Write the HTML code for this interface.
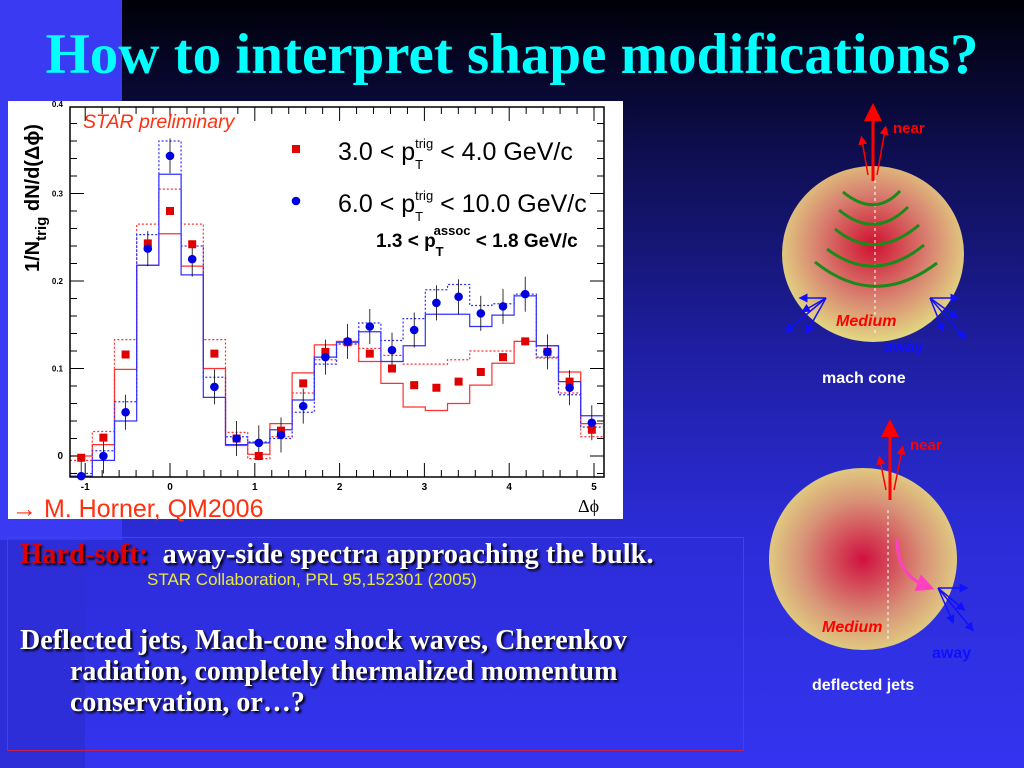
<!DOCTYPE html>
<html><head><meta charset="utf-8"><style>
body{margin:0;width:1024px;height:768px;overflow:hidden;position:relative;font-family:"Liberation Sans",sans-serif;
background:linear-gradient(#000008 0%,#0e0e50 20%,#1e1ea0 45%,#2c2cd8 70%,#3434f0 100%);}
.abs{position:absolute;}
.serif{font-family:"Liberation Serif",serif;font-weight:bold;}
.sh{text-shadow:2px 2px 2px #000;}
</style></head><body>
<div class="abs" style="left:0;top:0;width:122px;height:540px;background:#3a3af2"></div>
<div class="abs" style="left:0;top:540px;width:85px;height:228px;background:#2e2ed8"></div>
<div class="abs serif" style="left:0;width:1024px;top:20px;text-align:center;color:#00ffff;font-size:57px;line-height:70px;white-space:nowrap">How to interpret shape modifications?</div>

<svg class="abs" style="left:0;top:0" width="1024" height="768" id="chart">
<rect x="8" y="101" width="615" height="418" fill="#fff"/>
</svg>

<svg class="abs" style="left:0;top:0" width="1024" height="768">
<defs>
<radialGradient id="g1" cx="0.5" cy="0.45" r="0.55"><stop offset="0" stop-color="#d01030"/><stop offset="0.55" stop-color="#d88070"/><stop offset="1" stop-color="#e2d882"/></radialGradient>
<radialGradient id="g2" cx="0.5" cy="0.5" r="0.55"><stop offset="0" stop-color="#d01040"/><stop offset="0.6" stop-color="#d89478"/><stop offset="1" stop-color="#e2d882"/></radialGradient>
<marker id="ar" markerWidth="6" markerHeight="6" refX="3" refY="3" orient="auto"><path d="M0,0L6,3L0,6z" fill="red"/></marker>
<marker id="ab" markerWidth="6" markerHeight="6" refX="3" refY="3" orient="auto"><path d="M0,0L6,3L0,6z" fill="#1010ff"/></marker>
<marker id="ap" markerWidth="6" markerHeight="6" refX="3" refY="3" orient="auto"><path d="M0,0L6,3L0,6z" fill="#ff40c0"/></marker>
</defs>
<g>
<ellipse cx="873" cy="254" rx="91" ry="88" fill="url(#g1)"/>
<line x1="875" y1="180" x2="875" y2="335" stroke="#fff" stroke-dasharray="3,3" stroke-width="1"/>
<g fill="none" stroke="#1a8a1a" stroke-width="3">
<path d="M843,192 Q875,218 900,191"/><path d="M839,210 Q875,240 908,207"/><path d="M835,229 Q875,262 919,225"/><path d="M827,249 Q875,285 924,245"/><path d="M815,262 Q875,310 937,263"/></g>
<g stroke="red" fill="none"><line x1="873" y1="181" x2="873" y2="112" stroke-width="3" marker-end="url(#ar)"/><line x1="868" y1="175" x2="862" y2="140" stroke-width="1.5" marker-end="url(#ar)"/><line x1="877" y1="175" x2="885" y2="130" stroke-width="1.5" marker-end="url(#ar)"/></g>
<g stroke="#1010ff" stroke-width="1.5"><line x1="826" y1="298" x2="803" y2="298" marker-end="url(#ab)"/><line x1="826" y1="298" x2="805" y2="310" marker-end="url(#ab)"/><line x1="826" y1="298" x2="788" y2="330" marker-end="url(#ab)"/><line x1="826" y1="298" x2="808" y2="330" marker-end="url(#ab)"/>
<line x1="930" y1="298" x2="955" y2="298" marker-end="url(#ab)"/><line x1="930" y1="298" x2="955" y2="316" marker-end="url(#ab)"/><line x1="930" y1="298" x2="963" y2="336" marker-end="url(#ab)"/><line x1="930" y1="298" x2="942" y2="328" marker-end="url(#ab)"/></g>
<text x="893" y="133" fill="red" font-size="15" font-weight="bold" font-family="Liberation Sans">near</text>
<text x="836" y="326" fill="red" font-size="16" font-weight="bold" font-style="italic" font-family="Liberation Sans">Medium</text>
<text x="884" y="352" fill="#1010ff" font-size="16" font-weight="bold" font-family="Liberation Sans">away</text>
<text x="822" y="383" fill="#fff" font-size="16" font-weight="bold" font-family="Liberation Sans">mach cone</text>
</g>
<g>
<ellipse cx="863" cy="559" rx="94" ry="91" fill="url(#g2)"/>
<line x1="888" y1="510" x2="888" y2="640" stroke="#fff" stroke-dasharray="3,3" stroke-width="1"/>
<g stroke="red" fill="none"><line x1="890" y1="500" x2="890" y2="428" stroke-width="3" marker-end="url(#ar)"/><line x1="886" y1="490" x2="880" y2="460" stroke-width="1.5" marker-end="url(#ar)"/><line x1="894" y1="490" x2="902" y2="450" stroke-width="1.5" marker-end="url(#ar)"/></g>
<path d="M897,540 Q897,575 926,586" fill="none" stroke="#ff40c0" stroke-width="3" marker-end="url(#ap)"/>
<g stroke="#1010ff" stroke-width="1.5"><line x1="938" y1="588" x2="964" y2="588" marker-end="url(#ab)"/><line x1="938" y1="588" x2="962" y2="608" marker-end="url(#ab)"/><line x1="938" y1="588" x2="971" y2="628" marker-end="url(#ab)"/><line x1="938" y1="588" x2="952" y2="620" marker-end="url(#ab)"/></g>
<text x="910" y="450" fill="red" font-size="15" font-weight="bold" font-family="Liberation Sans">near</text>
<text x="822" y="632" fill="red" font-size="16" font-weight="bold" font-style="italic" font-family="Liberation Sans">Medium</text>
<text x="932" y="658" fill="#1010ff" font-size="16" font-weight="bold" font-family="Liberation Sans">away</text>
<text x="812" y="690" fill="#fff" font-size="16" font-weight="bold" font-family="Liberation Sans">deflected jets</text>
</g>
</svg>

<div class="abs" style="left:7px;top:537px;width:735px;height:212px;border:1px solid #c02050"></div>
<div class="abs serif sh" style="left:20px;top:539px;font-size:28.5px;color:#fff;white-space:nowrap"><span style="color:#e00000">Hard-soft:</span>&nbsp; away-side spectra approaching the bulk.</div>
<div class="abs" style="left:147px;top:570px;font-size:17px;color:#e8e840;white-space:nowrap">STAR Collaboration, PRL 95,152301 (2005)</div>
<div class="abs serif sh" style="left:20px;top:625px;font-size:28px;color:#fff;line-height:31px;white-space:nowrap">Deflected jets, Mach-cone shock waves, Cherenkov<br><span style="padding-left:50px">radiation, completely thermalized momentum</span><br><span style="padding-left:50px">conservation, or…?</span></div>

<script>
const binStart=-1.1781, binW=0.2618;
const redVals=[-0.002,0.021,0.116,0.243,0.280,0.242,0.117,0.020,0.000,0.029,0.083,0.119,0.130,0.117,0.100,0.081,0.078,0.085,0.096,0.113,0.131,0.119,0.085,0.030];
const blueVals=[-0.023,0.000,0.050,0.237,0.343,0.225,0.079,0.020,0.015,0.024,0.057,0.113,0.131,0.148,0.121,0.144,0.175,0.182,0.163,0.171,0.185,0.119,0.078,0.038];
const blueErr=[0.02,0.02,0.02,0.02,0.02,0.02,0.02,0.02,0.02,0.02,0.02,0.02,0.02,0.02,0.02,0.02,0.02,0.02,0.02,0.02,0.02,0.02,0.02,0.02];
const redLo=[0.000,0.013,0.099,0.218,0.254,0.217,0.100,0.012,0.002,0.037,0.095,0.127,0.131,0.108,0.083,0.056,0.052,0.060,0.081,0.106,0.131,0.126,0.096,0.037];
const redHi=[-0.005,0.028,0.133,0.265,0.305,0.265,0.133,0.027,-0.003,0.022,0.072,0.110,0.128,0.123,0.115,0.105,0.105,0.110,0.120,0.120,0.131,0.112,0.072,0.022];
const blueLo=[-0.023,-0.005,0.040,0.218,0.322,0.207,0.067,0.013,0.015,0.030,0.064,0.113,0.130,0.142,0.108,0.126,0.162,0.162,0.148,0.161,0.183,0.126,0.085,0.046];
const blueHi=[-0.020,0.006,0.062,0.253,0.360,0.240,0.090,0.022,0.016,0.020,0.050,0.105,0.128,0.152,0.132,0.157,0.190,0.196,0.172,0.174,0.185,0.113,0.070,0.033];
const xTicks=[-1,0,1,2,3,4,5];
const yTicks=[0,0.1,0.2,0.3,0.4];
const X=v=>170+v*84.8, Y=v=>456-v*875;
const L=70,R=604,T=107,B=477;
const svg=document.getElementById('chart');
const NS='http://www.w3.org/2000/svg';
function mk(tag,attrs,parent){const e=document.createElementNS(NS,tag);for(const k in attrs)e.setAttribute(k,attrs[k]);(parent||svg).appendChild(e);return e;}
function clampY(y){return Math.max(T,Math.min(B,y));}
function stepHist(arr,color,dash,name){
  let d='';
  arr.forEach((v,i)=>{const x0=X(binStart+i*binW),x1=X(binStart+(i+1)*binW),y=clampY(Y(v));d+=(i?'L':'M')+x0+','+y+'L'+x1+','+y;});
  const p=mk('path',{d:d,fill:'none',stroke:color,'stroke-width':1.2,'stroke-dasharray':dash});
  
  
}
stepHist(redLo,'#ff3030','','red-sys-low');
stepHist(redHi,'#ff3030','2,2','red-sys-high');
stepHist(blueLo,'#3030ff','','blue-sys-low');
stepHist(blueHi,'#3030ff','2,2','blue-sys-high');
const fr=mk('rect',{x:L,y:T,width:R-L,height:B-T,fill:'none',stroke:'#000','stroke-width':1.5});


for(let v=-1.2;v<=5.21;v+=0.2){const x=X(v);if(x<L||x>R)continue;const big=Math.abs(v-Math.round(v))<0.01;
 mk('line',{x1:x,x2:x,y1:B,y2:B-(big?14:7),stroke:'#000'});mk('line',{x1:x,x2:x,y1:T,y2:T+(big?14:7),stroke:'#000'});}
for(let v=-0.02;v<=0.401;v+=0.02){const y=Y(v);if(y<T||y>B)continue;const big=Math.abs(v*10-Math.round(v*10))<0.01;
 mk('line',{x1:L,x2:L+(big?14:7),y1:y,y2:y,stroke:'#000'});mk('line',{x1:R,x2:R-(big?14:7),y1:y,y2:y,stroke:'#000'});}
xTicks.forEach(v=>{const t=mk('text',{x:X(v),y:490,'font-size':10,'font-weight':'bold','text-anchor':'middle'});t.textContent=v;
 
 });
yTicks.forEach(v=>{const t=mk('text',{x:63,y:Y(v)+(v==0.4?1:3),'font-size':v==0?10:8,'font-weight':'bold','text-anchor':'end'});t.textContent=v;
 
 });
blueVals.forEach((v,i)=>{const x=X(binStart+(i+0.5)*binW);const l=mk('line',{x1:x,x2:x,y1:clampY(Y(v+blueErr[i])),y2:clampY(Y(v-blueErr[i])),stroke:'#000','stroke-width':0.8});
 
 });
redVals.forEach((v,i)=>{const x=X(binStart+(i+0.5)*binW),y=Y(v);const r=mk('rect',{x:x-4,y:y-4,width:8,height:8,fill:'#e00000'});
 
 });
blueVals.forEach((v,i)=>{const x=X(binStart+(i+0.5)*binW),y=Y(v);const c=mk('circle',{cx:x,cy:y,r:4.3,fill:'#0000e0'});
 
 });
function txt(x,y,s,attrs,name){const t=mk('text',Object.assign({x:x,y:y},attrs));t.innerHTML=s;return t;}
txt(83,128,'STAR preliminary',{'font-size':19.5,'font-style':'italic',fill:'#ff3010'},'star-preliminary-label');
mk('rect',{x:292,y:145,width:8,height:8,fill:'#e00000'});
mk('circle',{cx:296,cy:201,r:4.3,fill:'#0000e0'});
txt(338,160,'3.0 &lt; p<tspan dy="9" font-size="13">T</tspan><tspan dy="-21" dx="-8" font-size="13">trig</tspan><tspan dy="12"> &lt; 4.0 GeV/c</tspan>',{'font-size':25},'legend-entry-red');
txt(338,212,'6.0 &lt; p<tspan dy="9" font-size="13">T</tspan><tspan dy="-21" dx="-8" font-size="13">trig</tspan><tspan dy="12"> &lt; 10.0 GeV/c</tspan>',{'font-size':25},'legend-entry-blue');
txt(376,247,'1.3 &lt; p<tspan dy="9" font-size="13">T</tspan><tspan dy="-21" dx="-9" font-size="13">assoc</tspan><tspan dy="12"> &lt; 1.8 GeV/c</tspan>',{'font-size':19,'font-weight':'bold'},'assoc-pt-label');
txt(578,512,'Δϕ',{'font-size':18,'font-family':'Liberation Serif'},'x-axis-title');
txt(0,0,'1/N<tspan dy="7" font-size="15">trig</tspan><tspan dy="-7"> dN/d(Δϕ)</tspan>',{'font-size':20,'font-weight':'bold',transform:'translate(39,272) rotate(-90)'},'y-axis-title');
txt(12,517,'→ M. Horner, QM2006',{'font-size':25,fill:'#ff3010'},'citation-horner');
</script>
</body></html>
